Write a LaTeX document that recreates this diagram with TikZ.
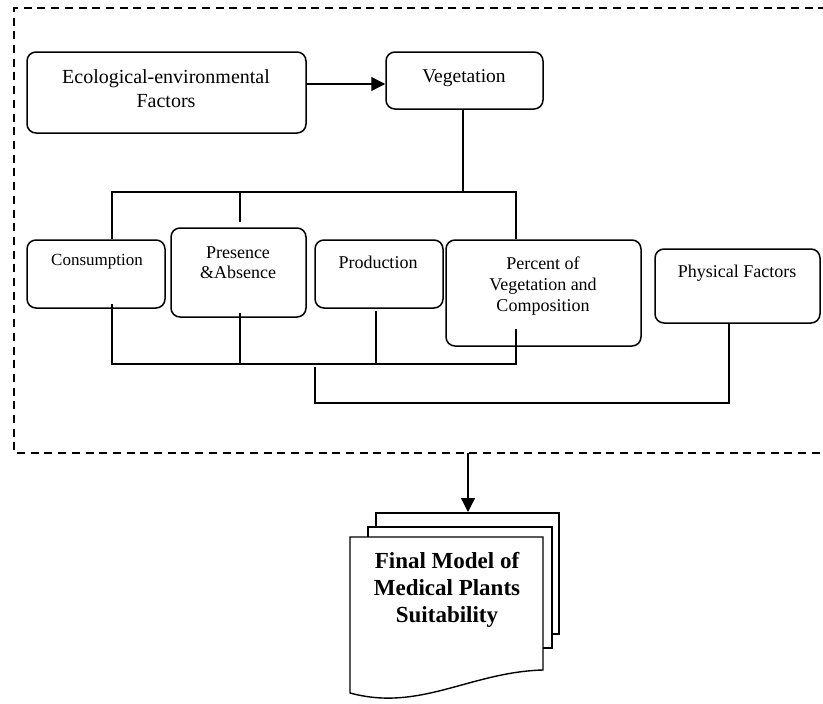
\documentclass[tikz,border=0pt]{standalone}
\usepackage{fontspec}
\setmainfont{Liberation Serif}
\usetikzlibrary{arrows.meta}
\tikzset{
  box/.style={draw, line width=1.5pt, rounded corners=9pt, inner sep=0pt, fill=white},
  txt/.style={align=center, inner sep=0pt, font=\fontsize{18}{21}\selectfont},
  conn/.style={line width=1.3pt},
  arr/.style={line width=1.3pt, -{Triangle[length=14pt,width=14pt]}},
  page/.style={draw, line width=1.4pt, fill=white},
  frame/.style={line width=1.4pt, dash pattern=on 8pt off 5.7pt}
}
\begin{document}
\begin{tikzpicture}[x=1pt,y=-1pt]
\useasboundingbox (0,0) rectangle (823,704);
\begin{scope}
\clip (0,0) rectangle (823,704);
\draw[frame] (840,8) -- (14,8) -- (14,453) -- (840,453);
\end{scope}

% boxes
\node[box, minimum width=279pt, minimum height=81pt] (eco) at (166.5,92.5) {};
\node[txt, font=\fontsize{20}{24}\selectfont] (ecoT) at (166,89) {Ecological-environmental\\Factors};
\node[box, minimum width=157pt, minimum height=57pt] (veg) at (464.5,80.5) {};
\node[txt, font=\fontsize{19.5}{23}\selectfont] (vegT) at (464,78) {Vegetation};

\node[box, minimum width=138pt, minimum height=68pt] (cons) at (96,274) {};
\node[txt, font=\fontsize{17}{20}\selectfont] (consT) at (97,262) {Consumption};
\node[box, minimum width=135pt, minimum height=89pt] (pres) at (238.5,272.5) {};
\node[txt, font=\fontsize{18}{20}\selectfont] (presT) at (238,263) {Presence\\\&Absence};
\node[box, minimum width=128pt, minimum height=68pt] (prod) at (379,274) {};
\node[txt] (prodT) at (378,262) {Production};
\node[box, minimum width=195pt, minimum height=106pt] (pct) at (543.5,293) {};
\node[txt] (pctT) at (543,286) {Percent of\\Vegetation and\\Composition};
\node[box, minimum width=165pt, minimum height=74pt] (phys) at (737.5,286) {};
\node[txt] (physT) at (737,273.5) {Physical Factors};

% connectors
\coordinate (aE) at (306,84);
\draw[arr] (aE) -- (aE -| veg.west);

\coordinate (tL) at (112,192);
\coordinate (tR) at (516,192);
\coordinate (tV) at (463,192);
\coordinate (pS) at (240,222);
\draw[conn] (tV |- veg.south) -- (tV);
\draw[conn] (cons.north -| tL) -- (tL) -- (tR) -- (pct.north -| tR);
\draw[conn] (pS) -- (pS |- tL);

\coordinate (bL) at (112,364);
\coordinate (bR) at (516,364);
\coordinate (cS) at (112,304);
\coordinate (prS) at (240,313);
\coordinate (pdS) at (376,311);
\coordinate (pcS) at (516,329);
\draw[conn] (cS) -- (bL) -- (bR) -- (pcS);
\draw[conn] (prS) -- (prS |- bL);
\draw[conn] (pdS) -- (pdS |- bL);

\coordinate (b2a) at (315,367);
\coordinate (b2L) at (315,403);
\coordinate (b2R) at (729,403);
\draw[conn] (b2a) -- (b2L) -- (b2R) -- (b2R |- phys.south);

% output arrow
\coordinate (fB) at (468,453);
\coordinate (docTop) at (468,512);
\draw[arr] (fB) -- (docTop);

% document stack
\draw[page] (376,513) rectangle (559,634);
\draw[page] (368,527) rectangle (552,648);
\draw[page] (350,537) -- (543,537) -- (543,670) .. controls (470,672) and (420,712) .. (350,693) -- cycle;
\node[align=center, inner sep=0pt, font=\bfseries\fontsize{23}{27}\selectfont] (docT) at (447,590) {Final Model of\\Medical Plants\\Suitability};
\end{tikzpicture}
\end{document}
